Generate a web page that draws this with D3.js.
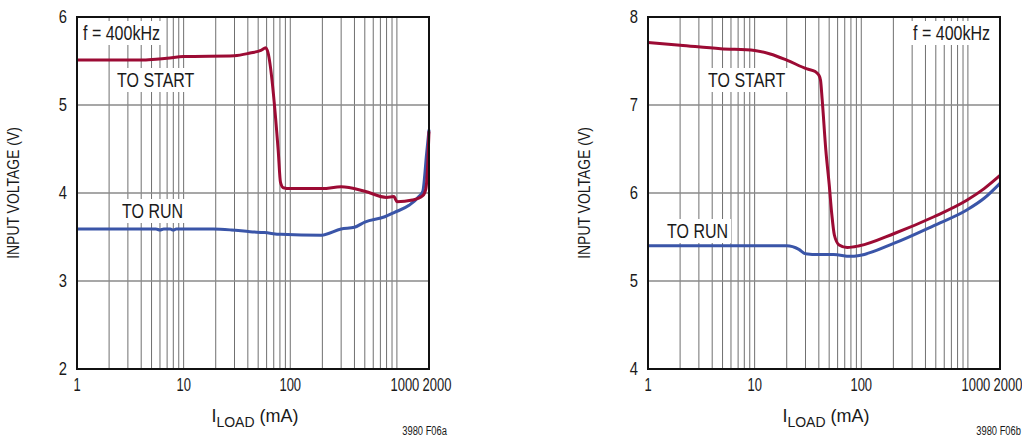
<!DOCTYPE html>
<html>
<head>
<meta charset="utf-8">
<script src="https://cdn.jsdelivr.net/npm/d3@7"></script>
<style>
  body { margin: 0; background: #fff; }
  svg { display: block; }
  text { font-family: "Liberation Sans", Arial, sans-serif; fill: #1a1a1a; }
</style>
</head>
<body>
<svg id="chart" width="1022" height="436"></svg>
<script>
// ---- data ----
// panel a (left)
const startLoadA = [1, 4, 5.5, 7, 10, 30, 42, 53, 59, 61, 77, 81, 86, 100, 200, 300, 500, 800, 940, 970, 1000, 1400, 1750, 1870, 1950, 2000];
const startVinA  = [5.51, 5.51, 5.52, 5.53, 5.55, 5.56, 5.59, 5.62, 5.65, 5.62, 4.49, 4.12, 4.06, 4.05, 4.05, 4.07, 4.02, 3.95, 3.96, 3.93, 3.90, 3.92, 3.97, 4.05, 4.35, 4.70];
const runLoadA   = [1, 5.5, 6, 6.5, 7.5, 8, 8.5, 19, 28, 42, 57, 82, 196, 300, 400, 500, 770, 950, 1300, 1610, 1750, 1900, 2000];
const runVinA    = [3.59, 3.59, 3.58, 3.59, 3.59, 3.58, 3.59, 3.59, 3.58, 3.56, 3.55, 3.53, 3.52, 3.59, 3.61, 3.67, 3.73, 3.78, 3.86, 3.96, 4.02, 4.45, 4.72];

// panel b (right)
const startLoadB = [1, 2, 4.8, 10, 14, 20, 31, 37, 40, 41.5, 43, 46.5, 50, 53, 56, 62, 74, 96, 204, 480, 985, 1420, 2000];
const startVinB  = [7.71, 7.68, 7.64, 7.62, 7.58, 7.51, 7.41, 7.38, 7.34, 7.28, 7.06, 6.49, 6.10, 5.75, 5.52, 5.41, 5.38, 5.40, 5.54, 5.73, 5.92, 6.05, 6.20];
const runLoadB   = [1, 20, 26, 30, 40, 55, 79, 96, 204, 480, 985, 1420, 2000];
const runVinB    = [5.40, 5.40, 5.36, 5.31, 5.30, 5.30, 5.28, 5.29, 5.43, 5.63, 5.81, 5.94, 6.11];

const xTickValues = [1, 10, 100, 1000, 2000];
const xTickLabels = ["1", "10", "100", "1000", "2000"];
const xGridValues = [2,3,4,5,6,7,8,9,10,20,30,40,50,60,70,80,90,100,200,300,400,500,600,700,800,900,1000];
const yTicksA = [2, 3, 4, 5, 6];
const yTicksB = [4, 5, 6, 7, 8];

const RED = "#9c0b34";
const BLUE = "#3a55a8";

const svg = d3.select("#chart");

function zip(xs, ys) { return xs.map((x, i) => ({ x: x, y: ys[i] })); }

// squeeze a text horizontally to mimic the datasheet's condensed font
function condense(sel, k) {
  sel.each(function () {
    const w = this.getComputedTextLength();
    d3.select(this).attr("textLength", w * k).attr("lengthAdjust", "spacingAndGlyphs");
  });
}

function drawPanel(opt) {
  const x = d3.scaleLog().domain([1, 2000]).range([opt.left, opt.right]);
  const y = d3.scaleLinear().domain(opt.yDomain).range([opt.bottom, opt.top]);
  const g = svg.append("g");

  // grid
  g.append("g").selectAll("line").data(xGridValues).join("line")
    .attr("x1", d => x(d)).attr("x2", d => x(d))
    .attr("y1", opt.top).attr("y2", opt.bottom)
    .attr("stroke", "#707070").attr("stroke-width", 1);
  g.append("g").selectAll("line").data(opt.yTicks).join("line")
    .attr("x1", opt.left).attr("x2", opt.right)
    .attr("y1", d => y(d)).attr("y2", d => y(d))
    .attr("stroke", "#8a8a8a").attr("stroke-width", 1.4);

  // labels with white boxes that hide the grid
  opt.labels.forEach(l => {
    const t = g.append("text")
      .attr("x", l.x).attr("y", l.y)
      .attr("text-anchor", l.anchor || "start")
      .style("font-size", "20px")
      .text(l.text)
      .call(condense, 0.8);
    const b = t.node().getBBox();
    g.insert("rect", "text")
      .attr("x", b.x - 3).attr("y", b.y - 1)
      .attr("width", b.width + 6).attr("height", b.height + 2)
      .attr("fill", "#fff");
  });

  // curves
  const line = d3.line().x(d => x(d.x)).y(d => y(d.y)).curve(d3.curveMonotoneX);
  g.append("path").datum(zip(opt.runLoad, opt.runVin))
    .attr("d", line).attr("fill", "none").attr("stroke", BLUE)
    .attr("stroke-width", 3).attr("stroke-linejoin", "round");
  g.append("path").datum(zip(opt.startLoad, opt.startVin))
    .attr("d", line).attr("fill", "none").attr("stroke", RED)
    .attr("stroke-width", 3).attr("stroke-linejoin", "round");

  // frame
  g.append("rect")
    .attr("x", opt.left).attr("y", opt.top)
    .attr("width", opt.right - opt.left).attr("height", opt.bottom - opt.top)
    .attr("fill", "none").attr("stroke", "#111").attr("stroke-width", 2);

  // y tick labels
  g.append("g").selectAll("text").data(opt.yTicks).join("text")
    .attr("x", opt.left - 10).attr("y", d => y(d) + 6)
    .attr("text-anchor", "end").style("font-size", "18px")
    .text(d => d)
    .call(condense, 0.82);

  // x tick labels (1000 and 2000 pushed right so they fit side by side)
  g.append("g").selectAll("text").data(xTickValues).join("text")
    .attr("x", d => x(d) + (d >= 1000 ? 8 : 0)).attr("y", 391)
    .attr("text-anchor", "middle").style("font-size", "18px")
    .text((d, i) => xTickLabels[i])
    .call(condense, 0.72);

  // axis titles
  g.append("text")
    .attr("transform", `translate(${opt.left - 58},${(opt.top + opt.bottom) / 2}) rotate(-90)`)
    .attr("text-anchor", "middle").style("font-size", "17px")
    .text("INPUT VOLTAGE (V)")
    .call(condense, 0.82);

  const xt = g.append("text")
    .attr("x", (opt.left + opt.right) / 2 + 2).attr("y", 422)
    .attr("text-anchor", "middle").style("font-size", "18px");
  xt.append("tspan").text("I");
  xt.append("tspan").attr("dy", 5).style("font-size", "14px").text("LOAD");
  xt.append("tspan").attr("dy", -5).text(" (mA)");

  g.append("text")
    .attr("x", opt.noteX).attr("y", 435)
    .attr("text-anchor", "end").style("font-size", "12px")
    .text(opt.note)
    .call(condense, 0.78);
}

drawPanel({
  left: 77, right: 429, top: 17, bottom: 369,
  yDomain: [2, 6], yTicks: yTicksA,
  startLoad: startLoadA, startVin: startVinA,
  runLoad: runLoadA, runVin: runVinA,
  labels: [
    { text: "f = 400kHz", x: 83, y: 40 },
    { text: "TO START", x: 117, y: 87 },
    { text: "TO RUN", x: 122, y: 218 }
  ],
  note: "3980 F06a", noteX: 447
});

drawPanel({
  left: 648, right: 1000, top: 17, bottom: 369,
  yDomain: [4, 8], yTicks: yTicksB,
  startLoad: startLoadB, startVin: startVinB,
  runLoad: runLoadB, runVin: runVinB,
  labels: [
    { text: "f = 400kHz", x: 990, y: 40, anchor: "end" },
    { text: "TO START", x: 708, y: 87 },
    { text: "TO RUN", x: 667, y: 238 }
  ],
  note: "3980 F06b", noteX: 1021
});
</script>
</body>
</html>
